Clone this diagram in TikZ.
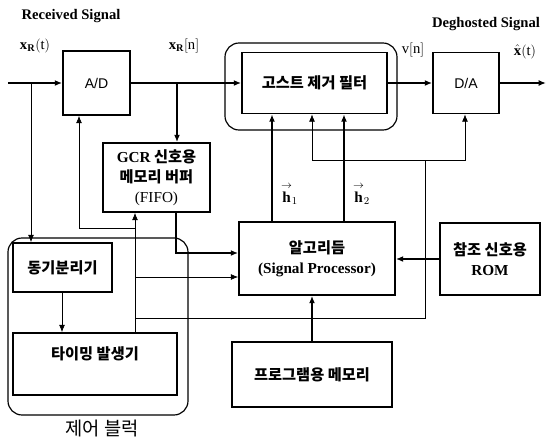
\documentclass[tikz,border=0pt]{standalone}
\usepackage{fontspec}
\usepackage{amsmath}
\setmainfont{Liberation Serif}
\setsansfont{Liberation Sans}
\newfontfamily\kr{Noto Sans CJK KR}
\usetikzlibrary{arrows.meta}

\begin{document}
\begin{tikzpicture}[
			x=0.03cm, y=-0.03cm,
			blk/.style={
				rectangle,
				draw=black,
				line width=1.5pt,
				align=center,
				inner sep=1pt,
				font=\kr\bfseries\fontsize{13}{17}\selectfont
			},
			frame/.style={
				draw=black,
				line width=1pt,
				rounded corners=12pt
			},
			data/.style={line width=1.3pt},
			ctrl/.style={line width=0.6pt},
			tip/.style={-{Latex[length=2.2mm,width=1.8mm]}},
			lbl/.style={font=\bfseries\fontsize{12.5}{14}\selectfont},
			sig/.style={font=\fontsize{12.5}{14}\selectfont}
			]
			\useasboundingbox (0,0) rectangle (546,444);
			% outer frames
			\draw[frame] (225,43) rectangle (397,130);
			\draw[frame] (8,238) rectangle (188,415);
			
			\node[blk, minimum width=2.01cm, minimum height=1.92cm, font=\sffamily\fontsize{12}{14}\selectfont] (ad) at (96.5,83) {A/D};
			\node[blk, minimum width=4.35cm, minimum height=1.83cm] (ghost) at (314.5,83) {고스트 제거 필터};
			\node[blk, minimum width=1.98cm, minimum height=1.83cm, font=\sffamily\fontsize{12}{14}\selectfont] (da) at (466,83) {D/A};
			\node[blk, minimum width=3.21cm, minimum height=2.07cm] (gcr) at (156.5,177.5)
			{{\rmfamily GCR} 신호용\\메모리 버퍼\\{\rmfamily\mdseries (FIFO)}};
			\node[blk, minimum width=4.68cm, minimum height=2.19cm] (alg) at (317,258.5)
			{알고리듬\\{\rmfamily (Signal Processor)}};
			\node[blk, minimum width=3.0cm, minimum height=2.16cm] (rom) at (490,259)
			{참조 신호용\\{\rmfamily ROM}};
			\node[blk, minimum width=2.97cm, minimum height=1.47cm] (sync) at (62.5,267.5) {동기분리기};
			\node[blk, minimum width=4.92cm, minimum height=1.86cm,
			label={[anchor=north, yshift=-0.3cm, font=\kr\bfseries\fontsize{13}{17}\selectfont]north:타이밍 발생기}] (timing) at (95,364) {};
			\node[blk, minimum width=4.8cm, minimum height=1.95cm] (prog) at (312,374.5) {프로그램용 메모리};
			
			\coordinate (in) at (8,83);
			\coordinate (out) at (546,83);
			\coordinate (br1) at (31,83);
			\coordinate (br2) at (177,83);
			\coordinate (tg1) at (135,228);
			\coordinate (tg2) at (135,277);
			\coordinate (tg3) at (135,318);
			\coordinate (ctl) at (425,160);
			
			% signal path
			\draw[data,tip] (in) -- (ad);
			\draw[data,tip] (ad.east) -- (ad.east -| ghost.west);
			\draw[data,tip] (br2) -- (br2 |- gcr.north);
			\draw[data,tip] (ghost.east) -- (ghost.east -| da.west);
			\draw[data,tip] (da.east) -- (out);
			\draw[ctrl,tip] (br1) -- (br1 |- sync.north);
			
			% coefficients
			\draw[data,tip] (272,0 |- alg.north) -- (272,0 |- ghost.south);
			\draw[data,tip] (344,0 |- alg.north) -- (344,0 |- ghost.south);
			\node[anchor=west, font=\fontsize{13}{15}\selectfont] (h1) at (277,194) {$\overset{\rightarrow}{\mathbf{h}}_1$};
			\node[anchor=west, font=\fontsize{13}{15}\selectfont] (h2) at (349,194) {$\overset{\rightarrow}{\mathbf{h}}_2$};
			
			% to the processor
			\draw[data,tip] (176,0 |- gcr.south) -- (176,253) -- (176,253 -| alg.west);
			\draw[data,tip] (rom.west) -- (rom.west -| alg.east);
			\draw[data,tip] (prog.north) -- (prog.north |- alg.south);
			
			% timing lines
			\draw[ctrl,tip] (62,0 |- sync.south) -- (62,0 |- timing.north);
			\draw[ctrl,tip] (135,0 |- timing.north) -- (135,0 |- gcr.south);
			\draw[ctrl,tip] (tg1) -- (79,228) -- (79,0 |- ad.south);
			\draw[ctrl,tip] (tg2) -- (tg2 -| alg.west);
			\draw[ctrl] (tg3) -- (425,318) -- (ctl);
			\draw[ctrl,tip] (ctl) -- (312,160) -- (312,0 |- ghost.south);
			\draw[ctrl,tip] (ctl) -- (465,160) -- (465,0 |- da.south);
			
			% labels
			\node[lbl] (rx) at (71,16) {Received Signal};
			\node[lbl] (dg) at (486,24) {Deghosted Signal};
			\node[sig] (xt) at (35,46) {$\mathbf{x}_{\mathbf{R}}(\mathrm{t})$};
			\node[sig] (xn) at (184,46) {$\mathbf{x}_{\mathbf{R}}[\mathrm{n}]$};
			\node[sig] (vn) at (413,50) {$\mathrm{v}[\mathrm{n}]$};
			\node[sig] (xh) at (525,52) {$\hat{\mathbf{x}}(\mathrm{t})$};
			\node[font=\kr\fontsize{16}{18}\selectfont] (ctrlname) at (102,428) {제어 블럭};
		\end{tikzpicture}
\end{document}
